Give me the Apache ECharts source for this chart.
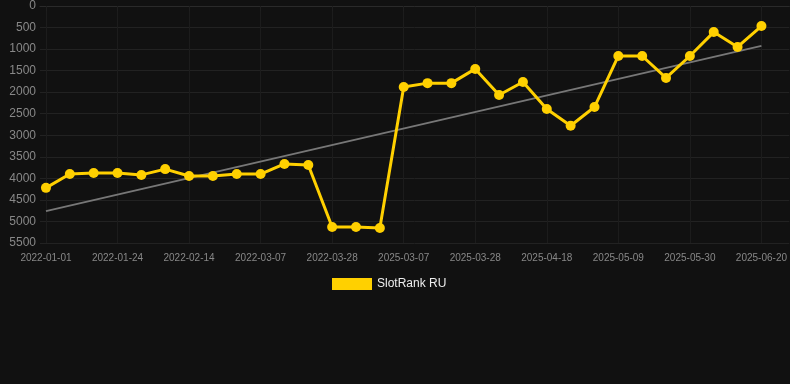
<!DOCTYPE html>
<html>
<head>
<meta charset="utf-8">
<script src="https://cdn.jsdelivr.net/npm/echarts@6/dist/echarts.min.js"></script>
<style>
html,body{margin:0;padding:0;background:#111111;}
#main{width:790px;height:384px;}
</style>
</head>
<body>
<div id="main"></div>
<script>
var dates = [
	'2022-01-01','2022-01-08','2022-01-16','2022-01-24','2022-01-31','2022-02-07',
	'2022-02-14','2022-02-21','2022-02-28','2022-03-07','2022-03-14','2022-03-21',
	'2022-03-28','2022-04-04','2022-04-11','2025-03-07','2025-03-14','2025-03-21',
	'2025-03-28','2025-04-04','2025-04-11','2025-04-18','2025-04-25','2025-05-02',
	'2025-05-09','2025-05-16','2025-05-23','2025-05-30','2025-06-06','2025-06-13',
	'2025-06-20'
];
var rankRU = [
	4220, 3900, 3875, 3875, 3920, 3785, 3945, 3945, 3900, 3900, 3665, 3690,
	5130, 5130, 5150, 1880, 1790, 1790, 1460, 2065, 1765, 2390, 2780, 2345,
	1160, 1160, 1670, 1160, 605, 950, 465
];
// 趋势线只有首尾两个点
var trendStart = 4760;
var trendEnd = 925;
var yTicks = [0, 500, 1000, 1500, 2000, 2500, 3000, 3500, 4000, 4500, 5000, 5500];

// 每3个日期显示一个标签
var labelIdx = [];
for (var i = 0; i < dates.length; i += 3) labelIdx.push(i);

var rankData = rankRU.map(function(v, i){ return [i, v]; });
var trendData = [[0, trendStart], [dates.length - 1, trendEnd]];

var myChart = echarts.init(document.getElementById('main'));
var option = {
	backgroundColor: '#111111',
	animation: false,
	grid: {
		left: 40,
		right: 0,
		top: 6,
		bottom: 141,
		containLabel: false
	},
	legend: {
		data: ['SlotRank RU'],
		bottom: 89,
		left: 327,
		itemWidth: 40,
		itemHeight: 12,
		icon: 'rect',
		textStyle: { color: '#eeeeee', fontSize: 12 }
	},
	xAxis: {
		type: 'value',
		min: -0.25,
		max: 31.17,
		axisLine: { show: true, lineStyle: { color: '#2a2a2a' } },
		axisTick: { show: true, customValues: labelIdx, lineStyle: { color: '#1e1e1e' } },
		axisLabel: {
			customValues: labelIdx,
			color: '#888888',
			fontSize: 10,
			margin: 10,
			formatter: function(v){ return dates[v] || ''; }
		},
		splitLine: { show: true, lineStyle: { color: '#1c1c1c' } }
	},
	yAxis: {
		type: 'value',
		inverse: true,
		min: yTicks[0],
		max: yTicks[yTicks.length - 1],
		interval: 500,
		axisLine: { show: false },
		axisTick: { show: false },
		axisLabel: { color: '#888888', fontSize: 12, margin: 4, formatter: function(v){ return '' + v; } },
		splitLine: { show: true, lineStyle: { color: '#222222' } }
	},
	series: [
		{
			name: 'SlotRank RU',
			type: 'line',
			data: rankData,
			symbol: 'circle',
			symbolSize: 10,
			itemStyle: { color: '#FFD000' },
			lineStyle: { color: '#FFD000', width: 3 },
			z: 3
		},
		{
			name: 'trend',
			type: 'line',
			data: trendData,
			symbol: 'none',
			lineStyle: { color: '#777777', width: 2 },
			z: 2
		}
	]
};
myChart.setOption(option);
</script>
</body>
</html>
